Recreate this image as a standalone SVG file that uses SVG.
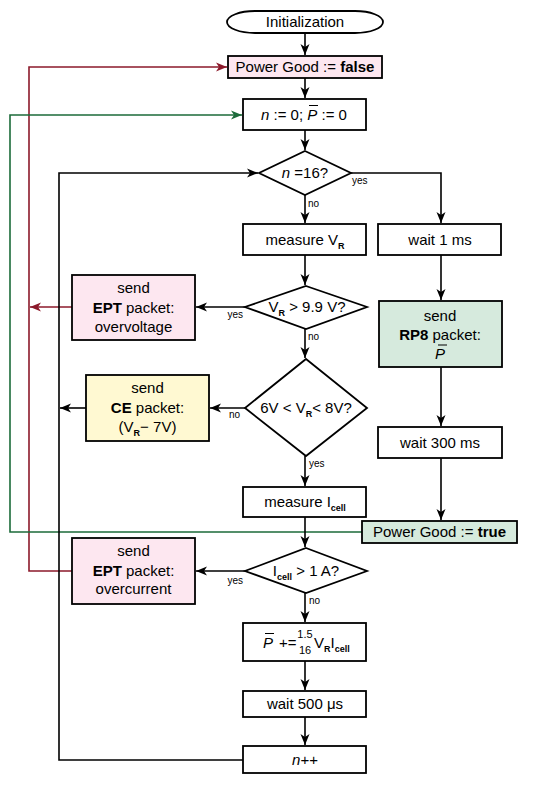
<svg xmlns="http://www.w3.org/2000/svg" width="556" height="785" viewBox="0 0 556 785">
<style>
text{font-family:"Liberation Sans",Arial,sans-serif;font-size:15px;fill:#000}
.c{text-anchor:middle}
.s{font-size:10px}
.sub{font-size:9px;font-weight:bold}
.b{font-weight:bold}
.i{font-style:italic}
.box{fill:#fff;stroke:#000;stroke-width:1.8}
.pink{fill:#fde7f0}
.green{fill:#d6eadd}
.yellow{fill:#fff9d2}
.ln{fill:none;stroke:#000;stroke-width:1.6}
.red{stroke:#8c1a2b}
.grn{stroke:#1c6b3a}
.ov{stroke:#000;stroke-width:1}
</style>
<defs>
<marker id="ak" markerUnits="userSpaceOnUse" markerWidth="12" markerHeight="10" refX="11" refY="5" orient="auto"><path d="M0,0.5 L11,5 L0,9.5 L3,5 z" fill="#000"/></marker>
<marker id="ar" markerUnits="userSpaceOnUse" markerWidth="12" markerHeight="10" refX="11" refY="5" orient="auto"><path d="M0,0.5 L11,5 L0,9.5 L3,5 z" fill="#8c1a2b"/></marker>
<marker id="ag" markerUnits="userSpaceOnUse" markerWidth="12" markerHeight="10" refX="11" refY="5" orient="auto"><path d="M0,0.5 L11,5 L0,9.5 L3,5 z" fill="#1c6b3a"/></marker>
</defs>

<g id="connectors">
<path class="ln red" d="M72,571 H29 V67 H227" marker-end="url(#ar)"/>
<path class="ln red" d="M72,307 H30" marker-end="url(#ar)"/>
<path class="ln grn" d="M362,532 H10 V115 H242" marker-end="url(#ag)"/>
<path class="ln" d="M243,760 H59 V173 H258" marker-end="url(#ak)"/>
<path class="ln" d="M86,408 H60" marker-end="url(#ak)"/>
<path class="ln" d="M305,33 V55" marker-end="url(#ak)"/>
<path class="ln" d="M305,78 V98" marker-end="url(#ak)"/>
<path class="ln" d="M305,130 V150" marker-end="url(#ak)"/>
<path class="ln" d="M305,195 V223" marker-end="url(#ak)"/>
<path class="ln" d="M305,255 V285" marker-end="url(#ak)"/>
<path class="ln" d="M305,329 V358" marker-end="url(#ak)"/>
<path class="ln" d="M305,456 V486" marker-end="url(#ak)"/>
<path class="ln" d="M305,517 V547" marker-end="url(#ak)"/>
<path class="ln" d="M305,593 V622" marker-end="url(#ak)"/>
<path class="ln" d="M305,661 V690" marker-end="url(#ak)"/>
<path class="ln" d="M305,717 V745" marker-end="url(#ak)"/>
<path class="ln" d="M350,173 H441 V223" marker-end="url(#ak)"/>
<path class="ln" d="M441,255 V300" marker-end="url(#ak)"/>
<path class="ln" d="M441,367 V426" marker-end="url(#ak)"/>
<path class="ln" d="M441,458 V520" marker-end="url(#ak)"/>
<path class="ln" d="M245,307 H196" marker-end="url(#ak)"/>
<path class="ln" d="M245,408 H210" marker-end="url(#ak)"/>
<path class="ln" d="M245,571 H196" marker-end="url(#ak)"/>
<text class="s" x="352" y="184">yes</text>
<text class="s" x="308" y="207">no</text>
<text class="s" x="243" y="318" text-anchor="end">yes</text>
<text class="s" x="308" y="340">no</text>
<text class="s" x="240" y="418" text-anchor="end">no</text>
<text class="s" x="309" y="467">yes</text>
<text class="s" x="243" y="584" text-anchor="end">yes</text>
<text class="s" x="309" y="604">no</text>
</g>

<g id="init">
<rect class="box" x="227" y="11" width="156" height="22" rx="28" ry="11"/>
<text class="c" x="305" y="27">Initialization</text>
</g>

<g id="pg-false">
<rect class="box pink" x="228" y="56" width="154" height="22"/>
<text class="c" x="305" y="72">Power Good := <tspan class="b">false</tspan></text>
</g>

<g id="reset">
<rect class="box" x="243" y="99" width="123" height="31"/>
<text x="261" y="120"><tspan class="i">n</tspan> := 0; <tspan class="i">P</tspan> := 0</text>
<line class="ov" x1="309" y1="105.5" x2="318" y2="105.5"/>
</g>

<g id="check-n">
<polygon class="box" points="305,151 351,173 305,195 259,173"/>
<text class="c" x="305" y="178"><tspan class="i">n</tspan> =16?</text>
</g>

<g id="measure-vr">
<rect class="box" x="243" y="224" width="123" height="31"/>
<text class="c" x="305" y="245">measure V<tspan class="sub" dy="4">R</tspan></text>
</g>

<g id="wait-1ms">
<rect class="box" x="378" y="224" width="123" height="31"/>
<text class="c" x="440" y="245">wait 1 ms</text>
</g>

<g id="check-ov">
<polygon class="box" points="306,286 367,307 306,329 245,307"/>
<text class="c" x="307" y="312">V<tspan class="sub" dy="4">R</tspan><tspan dy="-4"> &gt; 9.9 V?</tspan></text>
</g>

<g id="ept-ov">
<rect class="box pink" x="72" y="275" width="123" height="65"/>
<text class="c" x="133.5" y="293">send</text>
<text class="c" x="133.5" y="313"><tspan class="b">EPT</tspan> packet:</text>
<text class="c" x="133.5" y="332">overvoltage</text>
</g>

<g id="rp8">
<rect class="box green" x="379" y="301" width="123" height="66"/>
<text class="c" x="440" y="321">send</text>
<text class="c" x="440" y="340"><tspan class="b">RP8</tspan> packet:</text>
<text class="c i" x="440" y="359">P</text>
<line class="ov" x1="438" y1="345" x2="447" y2="345"/>
</g>

<g id="check-range">
<polygon class="box" points="306,359 367,408 306,456 245,408"/>
<text class="c" x="306" y="413">6V &lt; V<tspan class="sub" dy="4">R</tspan><tspan dy="-4">&lt; 8V?</tspan></text>
</g>

<g id="ce">
<rect class="box yellow" x="86" y="375" width="123" height="66"/>
<text class="c" x="147.5" y="393">send</text>
<text class="c" x="147.5" y="413"><tspan class="b">CE</tspan> packet:</text>
<text class="c" x="147.5" y="432">(V<tspan class="sub" dy="4">R</tspan><tspan dy="-4">− 7V)</tspan></text>
</g>

<g id="wait-300ms">
<rect class="box" x="378" y="427" width="124" height="31"/>
<text class="c" x="440" y="448">wait 300 ms</text>
</g>

<g id="measure-icell">
<rect class="box" x="243" y="487" width="123" height="30"/>
<text class="c" x="305" y="507">measure I<tspan class="sub" dy="4">cell</tspan></text>
</g>

<g id="pg-true">
<rect class="box green" x="362" y="521" width="155" height="22"/>
<text class="c" x="439.5" y="537">Power Good := <tspan class="b">true</tspan></text>
</g>

<g id="check-oc">
<polygon class="box" points="306,548 367,571 306,593 245,571"/>
<text class="c" x="306" y="576">I<tspan class="sub" dy="4">cell</tspan><tspan dy="-4"> &gt; 1 A?</tspan></text>
</g>

<g id="ept-oc">
<rect class="box pink" x="72" y="538" width="123" height="66"/>
<text class="c" x="133.5" y="556">send</text>
<text class="c" x="133.5" y="576"><tspan class="b">EPT</tspan> packet:</text>
<text class="c" x="133.5" y="594">overcurrent</text>
</g>

<g id="accumulate">
<rect class="box" x="243" y="623" width="123" height="38"/>
<text class="i" x="263" y="648">P</text>
<line class="ov" x1="265" y1="633.5" x2="274" y2="633.5"/>
<text x="279" y="648">+=</text>
<text class="c" x="305" y="638" style="font-size:11px">1.5</text>
<text class="c" x="305" y="654" style="font-size:11px">16</text>
<text x="314" y="648">V<tspan class="sub" dy="4">R</tspan><tspan dy="-4">I</tspan><tspan class="sub" dy="4">cell</tspan></text>
</g>

<g id="wait-500us">
<rect class="box" x="243" y="691" width="123" height="26"/>
<text class="c" x="305" y="709">wait 500 μs</text>
</g>

<g id="inc-n">
<rect class="box" x="243" y="746" width="123" height="27"/>
<text class="c" x="305" y="765"><tspan class="i">n</tspan>++</text>
</g>
</svg>
